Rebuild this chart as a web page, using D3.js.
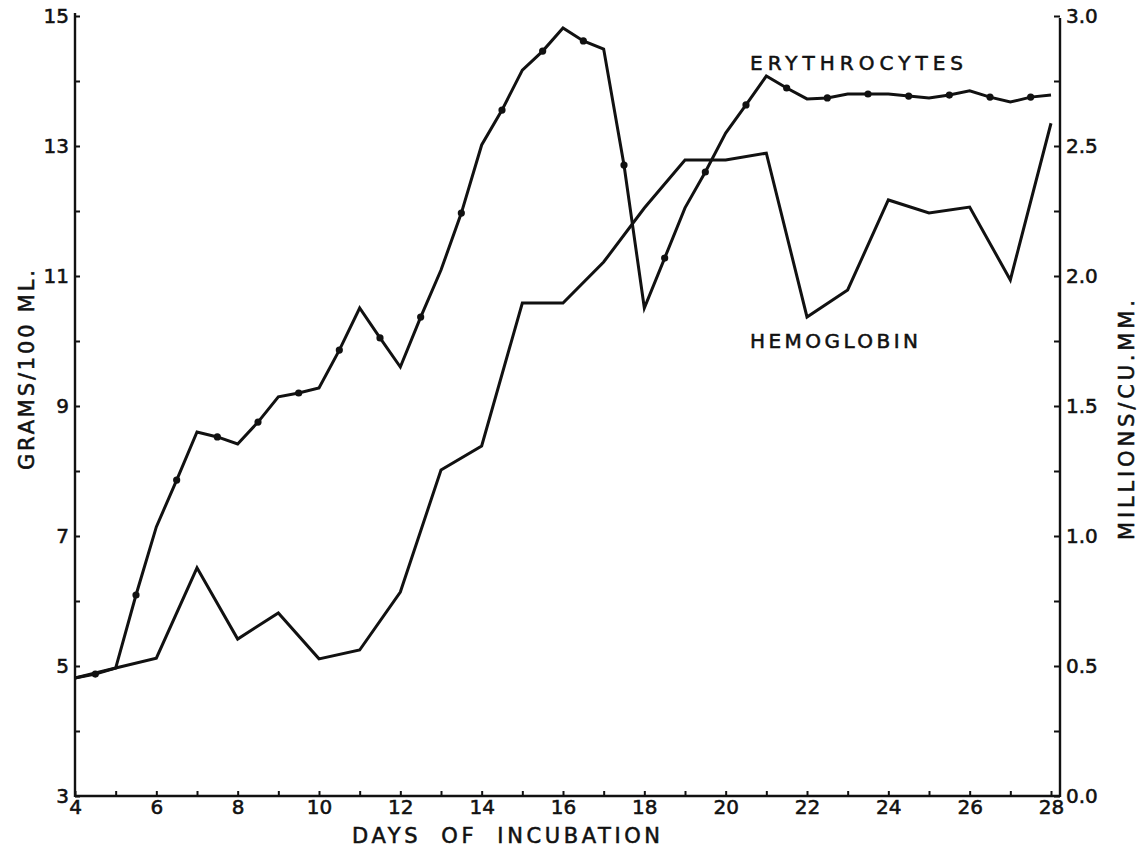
<!DOCTYPE html>
<html>
<head>
<meta charset="utf-8">
<script src="https://cdn.jsdelivr.net/npm/d3@7"></script>
<style>
  html, body { margin: 0; padding: 0; background: #fff; }
  svg { display: block; }
  text { font-family: "DejaVu Sans", sans-serif; fill: #111; stroke: #111; stroke-width: 0.55px; }
</style>
</head>
<body>
<svg id="chart" width="1141" height="852"></svg>
<script>
// Red cell count (millions / cu. mm), read every half day of incubation
const erythrocyteDays = [4, 4.5, 5, 5.5, 6, 6.5, 7, 7.5, 8, 8.5, 9, 9.5, 10, 10.5, 11, 11.5, 12,
  12.5, 13, 13.5, 14, 14.5, 15, 15.5, 16, 16.5, 17, 17.5, 18, 18.5, 19, 19.5, 20, 20.5, 21,
  21.5, 22, 22.5, 23, 23.5, 24, 24.5, 25, 25.5, 26, 26.5, 27, 27.5, 28];
const erythrocytes = [0.454, 0.469, 0.492, 0.773, 1.035, 1.215, 1.40, 1.381, 1.354, 1.438, 1.535,
  1.55, 1.569, 1.715, 1.877, 1.762, 1.65, 1.842, 2.023, 2.242, 2.504, 2.638, 2.792, 2.865, 2.954,
  2.904, 2.873, 2.427, 1.877, 2.069, 2.262, 2.40, 2.55, 2.658, 2.769, 2.723, 2.681, 2.685, 2.70,
  2.70, 2.70, 2.692, 2.685, 2.696, 2.712, 2.688, 2.669, 2.688, 2.696];

// Hemoglobin (grams / 100 ml), one reading per day
const hemoglobinDays = [4, 5, 6, 7, 8, 9, 10, 11, 12, 13, 14, 15, 16, 17, 18, 19, 20, 21, 22,
  23, 24, 25, 26, 27, 28];
const hemoglobin = [4.815, 4.97, 5.12, 6.51, 5.415, 5.815, 5.11, 5.246, 6.138, 8.015, 8.385,
  10.585, 10.585, 11.215, 12.046, 12.785, 12.785, 12.89, 10.37, 10.785, 12.17, 11.97, 12.06,
  10.94, 13.35];

// Axis ticks and labels
const dayTicks = d3.range(4, 29);
const dayLabels = [4, 6, 8, 10, 12, 14, 16, 18, 20, 22, 24, 26, 28];
const gramTicks = d3.range(3, 16);
const gramLabels = [3, 5, 7, 9, 11, 13, 15];
const millionTicks = d3.range(0, 13).map(i => i * 0.25);
const millionLabels = [0, 0.5, 1.0, 1.5, 2.0, 2.5, 3.0];

const frame = { left: 75, right: 1060, top: 16, bottom: 796 };
const ink = "#111";

const svg = d3.select("#chart");

const x = d3.scaleLinear().domain([4, 28]).range([75, 1051]);
const yHb = d3.scaleLinear().domain([3, 15]).range([frame.bottom, frame.top]);
const yRbc = d3.scaleLinear().domain([0, 3]).range([frame.bottom, frame.top]);

function styleAxis(g, size) {
  g.select(".domain").remove();
  g.selectAll(".tick line").attr("stroke", ink).attr("stroke-width", 2);
  g.selectAll(".tick text")
    .attr("fill", ink)
    .style("font-family", "'DejaVu Sans', sans-serif")
    .style("font-size", size + "px");
}

// Bottom axis: a tick every day, labels on even days
svg.append("g")
  .attr("transform", `translate(0,${frame.bottom})`)
  .call(d3.axisBottom(x)
    .tickValues(dayTicks)
    .tickSizeInner(-5).tickSizeOuter(0).tickPadding(4)
    .tickFormat(d => dayLabels.includes(d) ? d : ""))
  .call(g => styleAxis(g, 20));

// Left axis: grams per 100 ml
svg.append("g")
  .attr("transform", `translate(${frame.left},0)`)
  .call(d3.axisLeft(yHb)
    .tickValues(gramTicks)
    .tickSizeInner(-5).tickSizeOuter(0).tickPadding(6)
    .tickFormat(d => gramLabels.includes(d) ? d : ""))
  .call(g => styleAxis(g, 20));

// Right axis: millions per cu. mm
const fmt1 = d3.format(".1f");
svg.append("g")
  .attr("transform", `translate(${frame.right},0)`)
  .call(d3.axisRight(yRbc)
    .tickValues(millionTicks)
    .tickSizeInner(-6).tickSizeOuter(0).tickPadding(6)
    .tickFormat(d => millionLabels.some(v => Math.abs(v - d) < 1e-9) ? fmt1(d) : ""))
  .call(g => styleAxis(g, 20));

// Frame lines
const frameG = svg.append("g").attr("stroke", ink).attr("stroke-width", 2.4).attr("fill", "none");
frameG.append("line").attr("x1", frame.left).attr("x2", frame.left)
  .attr("y1", frame.top - 3).attr("y2", frame.bottom + 1);
frameG.append("line").attr("x1", frame.right).attr("x2", frame.right)
  .attr("y1", frame.top + 2).attr("y2", frame.bottom + 1);
frameG.append("line").attr("x1", frame.left).attr("x2", frame.right)
  .attr("y1", frame.bottom).attr("y2", frame.bottom);

// Series
const rbcData = erythrocyteDays.map((d, i) => ({ day: d, v: erythrocytes[i] }));
const hbData = hemoglobinDays.map((d, i) => ({ day: d, v: hemoglobin[i] }));

svg.append("path")
  .datum(hbData)
  .attr("fill", "none").attr("stroke", ink).attr("stroke-width", 3)
  .attr("stroke-linejoin", "miter")
  .attr("d", d3.line().x(d => x(d.day)).y(d => yHb(d.v)));

svg.append("path")
  .datum(rbcData)
  .attr("fill", "none").attr("stroke", ink).attr("stroke-width", 3)
  .attr("stroke-linejoin", "miter")
  .attr("d", d3.line().x(d => x(d.day)).y(d => yRbc(d.v)));

svg.append("g").selectAll("circle")
  .data(rbcData.filter(d => d.day % 1 !== 0))
  .join("circle")
  .attr("cx", d => x(d.day)).attr("cy", d => yRbc(d.v))
  .attr("r", 3.6).attr("fill", ink);

// Series labels
svg.append("text").attr("x", 750).attr("y", 70)
  .attr("textLength", 213).attr("lengthAdjust", "spacing")
  .style("font-size", "20px").text("ERYTHROCYTES");
svg.append("text").attr("x", 750).attr("y", 348)
  .attr("textLength", 168).attr("lengthAdjust", "spacing")
  .style("font-size", "20px").text("HEMOGLOBIN");

// Axis titles
svg.append("text").attr("x", 352).attr("y", 843)
  .attr("textLength", 308).attr("lengthAdjust", "spacing")
  .style("font-size", "21px").style("word-spacing", "10px").text("DAYS OF INCUBATION");

svg.append("text")
  .attr("transform", "translate(34,370) rotate(-90)")
  .attr("text-anchor", "middle")
  .attr("textLength", 200).attr("lengthAdjust", "spacing")
  .style("font-size", "21px").text("GRAMS/100 ML.");

svg.append("text")
  .attr("transform", "translate(1134,420) rotate(-90)")
  .attr("text-anchor", "middle")
  .attr("textLength", 240).attr("lengthAdjust", "spacing")
  .style("font-size", "21px").text("MILLIONS/CU.MM.");
</script>
</body>
</html>
